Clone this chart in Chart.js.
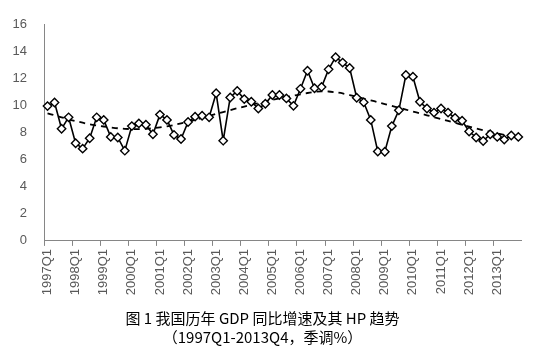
<!DOCTYPE html>
<html>
<head>
<meta charset="utf-8">
<script src="https://cdn.jsdelivr.net/npm/chart.js@4/dist/chart.umd.min.js"></script>
<style>
html,body{margin:0;padding:0;background:#fff;}
#wrap{width:537px;height:356px;}
</style>
</head>
<body>
<div id="wrap"><canvas id="c" width="537" height="356"></canvas></div>
<script>
const years = [1997,1998,1999,2000,2001,2002,2003,2004,2005,2006,2007,2008,2009,2010,2011,2012,2013];
const quarters = ['Q1','Q2','Q3','Q4'];
const gdpGrowth = [
  9.98, 10.25, 8.3, 9.15,
  7.23, 6.83, 7.6, 9.15,
  8.96, 7.7, 7.66, 6.68,
  8.5, 8.7, 8.6, 7.9,
  9.35, 8.96, 7.85, 7.54,
  8.8, 9.2, 9.27, 9.15,
  10.93, 7.42, 10.62, 11.1,
  10.5, 10.3, 9.8, 10.15,
  10.8, 10.8, 10.55, 10.0,
  11.26, 12.6, 11.3, 11.4,
  12.7, 13.6, 13.2, 12.8,
  10.6, 10.26, 8.96, 6.62,
  6.6, 8.5, 9.67, 12.28,
  12.16, 10.3, 9.8, 9.5,
  9.8, 9.5, 9.1, 8.9,
  8.1, 7.66, 7.4, 7.9,
  7.7, 7.5, 7.8, 7.7
];
const hpTrend = [
  9.45, 9.3, 9.15, 9.0,
  8.87, 8.75, 8.64, 8.55,
  8.47, 8.4, 8.34, 8.3,
  8.28, 8.28, 8.3, 8.34,
  8.4, 8.48, 8.58, 8.7,
  8.83, 8.96, 9.1, 9.25,
  9.4, 9.54, 9.68, 9.82,
  9.95, 10.08, 10.2, 10.32,
  10.44, 10.55, 10.65, 10.75,
  10.85, 10.95, 11.03, 11.07,
  11.06, 11.0, 10.92, 10.8,
  10.67, 10.54, 10.41, 10.27,
  10.13, 10.0, 9.86, 9.72,
  9.58, 9.44, 9.3, 9.16,
  9.02, 8.88, 8.74, 8.6,
  8.46, 8.33, 8.2, 8.08,
  7.96, 7.85, 7.74, 7.64
];
const yTicks = [0,2,4,6,8,10,12,14,16];
const titleLines = ['图 1 我国历年 GDP 同比增速及其 HP 趋势', '（1997Q1-2013Q4，季调%）'];

const labels = [];
years.forEach(y => quarters.forEach(q => labels.push(y + q)));

const axisColor = '#868686';
const tickFont = {family: 'Liberation Sans, Arial, sans-serif', size: 13};

new Chart(document.getElementById('c'), {
  type: 'line',
  data: {
    labels: labels,
    datasets: [
      {
        label: 'GDP',
        data: gdpGrowth,
        borderColor: '#000',
        borderWidth: 1.6,
        pointStyle: 'rectRot',
        pointRadius: 4.2,
        pointBorderWidth: 1.4,
        pointBackgroundColor: '#fff',
        pointBorderColor: '#000',
        tension: 0,
        fill: false
      },
      {
        label: 'HP',
        data: hpTrend,
        borderColor: '#000',
        borderWidth: 1.8,
        borderDash: [6, 5],
        pointRadius: 0,
        tension: 0.3,
        fill: false
      }
    ]
  },
  options: {
    responsive: false,
    animation: false,
    devicePixelRatio: 1,
    layout: {padding: {left: 0, right: 12, top: 16, bottom: 0}},
    plugins: {
      legend: {display: false},
      tooltip: {enabled: false},
      title: {
        display: true,
        position: 'bottom',
        text: titleLines,
        color: '#000',
        font: {family: '"Noto Sans CJK SC", sans-serif', size: 15, weight: 'normal', lineHeight: 1.27},
        padding: {top: 7, bottom: 9}
      }
    },
    scales: {
      x: {
        type: 'category',
        offset: true,
        afterFit: s => { s.height = 61; },
        border: {display: true, color: axisColor, width: 1},
        grid: {
          offset: true,
          drawOnChartArea: false,
          drawTicks: true,
          tickLength: 5,
          color: ctx => (ctx.index % 4 === 0 ? axisColor : 'rgba(0,0,0,0)'),
          lineWidth: 1
        },
        ticks: {
          autoSkip: false,
          minRotation: 90,
          maxRotation: 90,
          padding: 3,
          color: '#595959',
          font: tickFont,
          callback: function(v, i) { return i % 4 === 0 ? labels[i] : ''; }
        }
      },
      y: {
        min: 0,
        max: 16,
        afterFit: s => { s.width = 44; },
        afterBuildTicks: s => { s.ticks = yTicks.map(v => ({value: v})); },
        border: {display: true, color: axisColor, width: 1},
        grid: {display: true, drawOnChartArea: false, drawTicks: false},
        ticks: {
          padding: 17,
          color: '#595959',
          font: tickFont
        }
      }
    }
  }
});
</script>
</body>
</html>
